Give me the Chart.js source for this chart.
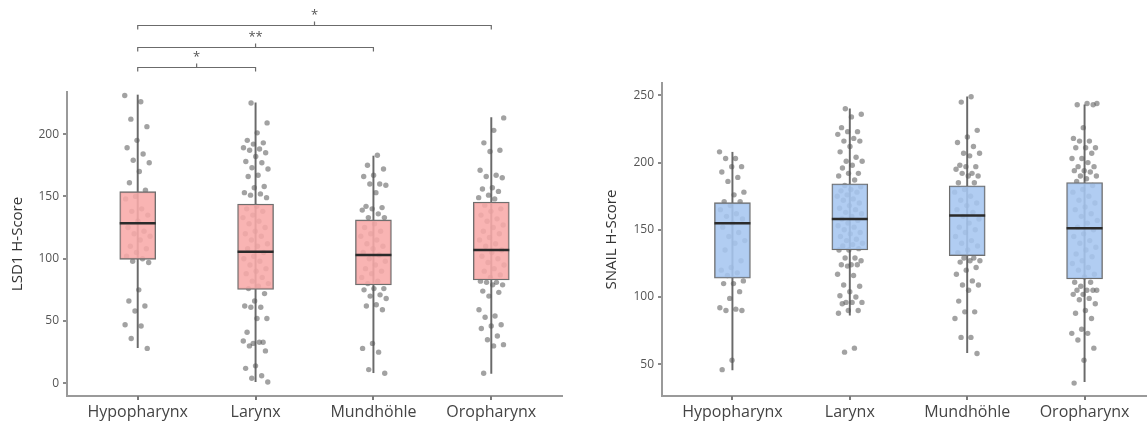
<!DOCTYPE html>
<html>
<head>
<meta charset="utf-8">
<script src="https://cdn.jsdelivr.net/npm/chart.js@4.4.1/dist/chart.umd.min.js"></script>
<style>
  html, body { margin:0; padding:0; background:#fff; overflow:hidden; }
  body { width:1147px; height:427px; position:relative; }
  .panel { position:absolute; top:0; height:427px; }
  #c1wrap { left:0; width:570px; }
  #c2wrap { left:580px; width:575px; }
</style>
</head>
<body>
<div id="c1wrap" class="panel"><canvas id="c1" width="570" height="427"></canvas></div>
<div id="c2wrap" class="panel"><canvas id="c2" width="575" height="427"></canvas></div>
<script>
// ---------- data ----------
const categories = ["Hypopharynx", "Larynx", "Mundhöhle", "Oropharynx"];

// LSD1 H-Score
const lsd1Q1      = [99.5, 75.4, 78.9, 82.9];
const lsd1Median  = [128.4, 105.6, 103.0, 107.0];
const lsd1Q3      = [153.8, 143.9, 131.1, 145.5];
const lsd1WhiskLo = [28.6, 1.3, 8.5, 8.0];
const lsd1WhiskHi = [231.4, 225.2, 182.4, 213.2];
const lsd1Ticks   = [0, 50, 100, 150, 200];
const lsd1Hypo = [231, 226, 212, 206, 195, 189, 184, 179, 177, 170, 161, 155, 150, 148, 140, 138, 135, 130, 125, 122, 120, 118, 115, 110, 108, 105, 102, 100, 98, 97, 75, 66, 62, 58, 47, 46, 36, 28];
const lsd1Larynx = [225, 209, 201, 195, 193, 192, 189, 188, 187, 185, 182, 178, 177, 173, 172, 167, 166, 158, 157, 153, 152, 151, 149, 142, 140, 138, 135, 133, 130, 128, 125, 122, 120, 118, 115, 112, 110, 108, 105, 102, 100, 98, 95, 92, 90, 88, 85, 82, 80, 78, 76, 72, 66, 62, 61, 61, 52, 52, 41, 33, 32, 34, 33, 30, 26, 14, 12, 6, 4, 1];
const lsd1Mund = [183, 175, 172, 167, 166, 160, 160, 159, 153, 142, 141, 140, 139, 136, 133, 133, 128, 125, 122, 120, 118, 115, 112, 110, 108, 105, 103, 100, 98, 95, 92, 90, 88, 85, 82, 80, 76, 76, 75, 71, 70, 68, 63, 62, 59, 32, 28, 25, 11, 8];
const lsd1Oro = [213, 203, 193, 187, 186, 171, 167, 166, 165, 157, 156, 154, 151, 149, 148, 143, 140, 138, 135, 132, 130, 127, 125, 122, 120, 117, 115, 112, 110, 107, 105, 102, 100, 97, 95, 92, 90, 87, 85, 82, 81, 81, 79, 79, 74, 73, 70, 59, 54, 53, 47, 46, 44, 38, 35, 31, 30, 8];
const lsd1Comparisons = [
  { from: 0, to: 1, label: "*" },
  { from: 0, to: 2, label: "**" },
  { from: 0, to: 3, label: "*" }
];

// SNAIL H-Score
const snailQ1      = [114.0, 135.0, 130.8, 113.5];
const snailMedian  = [154.9, 158.1, 160.6, 151.2];
const snailQ3      = [170.2, 184.2, 182.7, 185.1];
const snailWhiskLo = [45.8, 86.5, 58.6, 37.0];
const snailWhiskHi = [207.7, 240.0, 249.0, 243.0];
const snailTicks   = [50, 100, 150, 200, 250];
const snailHypo = [208, 203, 203, 197, 197, 193, 189, 186, 178, 176, 171, 171, 168, 165, 162, 160, 158, 155, 152, 148, 145, 142, 140, 135, 127, 122, 120, 118, 116, 112, 110, 110, 104, 99, 92, 91, 90, 90, 53, 46];
const snailLarynx = [240, 236, 234, 226, 223, 223, 221, 218, 216, 216, 212, 208, 204, 201, 201, 198, 196, 192, 192, 190, 187, 183, 182, 180, 179, 178, 176, 175, 173, 172, 170, 168, 166, 165, 163, 162, 160, 158, 157, 155, 153, 152, 150, 148, 147, 145, 143, 142, 140, 139, 138, 136, 135, 135, 129, 129, 127, 124, 124, 124, 123, 117, 116, 109, 108, 104, 101, 100, 96, 96, 96, 95, 90, 90, 88, 62, 59];
const snailMund = [249, 245, 224, 219, 215, 212, 207, 207, 205, 198, 197, 197, 195, 192, 192, 190, 190, 185, 185, 180, 178, 175, 172, 170, 168, 165, 163, 160, 158, 155, 152, 150, 148, 145, 142, 140, 138, 135, 133, 129, 129, 127, 127, 126, 122, 120, 117, 112, 109, 109, 105, 97, 89, 89, 84, 70, 70, 58];
const snailOro = [244, 244, 243, 243, 226, 218, 216, 216, 211, 211, 211, 207, 203, 203, 200, 197, 197, 194, 194, 193, 190, 190, 188, 186, 183, 180, 178, 175, 172, 170, 167, 165, 162, 160, 157, 155, 152, 150, 147, 145, 142, 140, 137, 135, 132, 130, 127, 125, 122, 120, 117, 115, 111, 111, 108, 105, 105, 105, 105, 102, 102, 99, 98, 95, 90, 88, 84, 76, 73, 73, 68, 62, 53, 36];

// ---------- helpers ----------
const FONT = "'Open Sans', 'Noto Sans', sans-serif";
function jitter(i) { // deterministic spread (golden-ratio sequence), only for horizontal placement
  return (((i * 0.6180339887) % 1) - 0.5) * 0.22;
}
function pointsData(groups) {
  const out = [];
  groups.forEach((g, gi) => g.forEach((v, i) => out.push({ x: gi + 1 + jitter(i + gi * 7), y: v })));
  return out;
}
const bracketPlugin = {
  id: 'brackets',
  afterDraw(chart, args, opts) {
    const ctx = chart.ctx, xs = chart.scales.x, ys = chart.scales.y;
    ctx.save();
    // small category tick marks under the x axis
    ctx.strokeStyle = '#7a7a7a';
    ctx.lineWidth = 2;
    ctx.beginPath();
    categories.forEach((c, i) => {
      const x = Math.round(xs.getPixelForValue(i + 1));
      ctx.moveTo(x, xs.top); ctx.lineTo(x, xs.top + 4);
    });
    ctx.stroke();
    if (opts && opts.items) {
      ctx.strokeStyle = '#6b6b6b';
      ctx.lineWidth = 1.2;
      ctx.fillStyle = '#555';
      ctx.font = "13px " + FONT;
      ctx.textAlign = 'center';
      ctx.textBaseline = 'middle';
      opts.items.forEach((it, k) => {
        const y = Math.round(ys.getPixelForValue(opts.levels[k])) + 0.5;
        const x1 = xs.getPixelForValue(it.from + 1), x2 = xs.getPixelForValue(it.to + 1);
        const xm = (x1 + x2) / 2;
        ctx.beginPath();
        ctx.moveTo(x1, y + 4); ctx.lineTo(x1, y); ctx.lineTo(x2, y); ctx.lineTo(x2, y + 4);
        ctx.moveTo(xm, y); ctx.lineTo(xm, y - 4);
        ctx.stroke();
        ctx.fillText(it.label, xm, y - 10);
      });
    }
    ctx.restore();
  }
};

function makeChart(id, cfg) {
  const boxes = categories.map((c, i) => ({ x: i + 1, y: [cfg.q1[i], cfg.q3[i]] }));
  const whisk = categories.map((c, i) => ({ x: i + 1, y: [cfg.lo[i], cfg.hi[i]] }));
  const meds  = categories.map((c, i) => ({ x: i + 1, y: cfg.med[i] }));
  return new Chart(document.getElementById(id), {
    type: 'bar',
    data: {
      datasets: [
        { type: 'bar', data: whisk, backgroundColor: '#6a6a6a', borderWidth: 0, barThickness: 1.3, grouped: false, order: 4 },
        { type: 'scatter', data: pointsData(cfg.points), pointRadius: 2.7, pointBackgroundColor: 'rgba(85,85,85,0.55)', pointBorderWidth: 0, order: 3 },
        { type: 'bar', data: boxes, backgroundColor: cfg.fill, borderColor: '#6e6e6e', borderWidth: 1.3, borderSkipped: false, barThickness: 36, grouped: false, order: 2 },
        { type: 'scatter', data: meds, pointStyle: 'line', pointRadius: 18, pointBorderColor: '#2b2b2b', pointBorderWidth: 2.6, order: 1 }
      ]
    },
    options: {
      responsive: false,
      animation: false,
      events: [],
      layout: { autoPadding: false, padding: { top: cfg.top, right: cfg.right, left: 0, bottom: 0 } },
      plugins: { legend: { display: false }, tooltip: { enabled: false }, brackets: cfg.brackets || {} },
      scales: {
        x: {
          type: 'linear', min: 0.4, max: 4.6, offset: false,
          afterBuildTicks: s => { s.ticks = categories.map((c, i) => ({ value: i + 1 })); },
          afterFit: s => { s.height = 427 - 396; s.paddingLeft = 0; s.paddingRight = 0; },
          ticks: { callback: v => categories[v - 1], color: '#444', font: { family: FONT, size: 16 }, padding: 7, maxRotation: 0, autoSkip: false },
          grid: { display: false, drawTicks: false },
          border: { display: true, color: '#9a9a9a', width: 2 }
        },
        y: {
          min: cfg.ymin, max: cfg.ymax,
          afterBuildTicks: s => { s.ticks = cfg.ticks.map(v => ({ value: v })); },
          afterFit: s => { s.width = cfg.yw; },
          ticks: { color: '#555', font: { family: FONT, size: 12 }, padding: 4 },
          grid: { display: true, drawOnChartArea: false, drawTicks: true, tickLength: 4, color: '#8a8a8a', lineWidth: 2 },
          border: { display: true, color: '#9a9a9a', width: 2 },
          title: { display: true, text: cfg.title, color: '#333', font: { family: FONT, size: 15 }, padding: { top: cfg.titlePad, bottom: 0 } }
        }
      }
    },
    plugins: [bracketPlugin]
  });
}

makeChart('c1', {
  q1: lsd1Q1, med: lsd1Median, q3: lsd1Q3, lo: lsd1WhiskLo, hi: lsd1WhiskHi,
  points: [lsd1Hypo, lsd1Larynx, lsd1Mund, lsd1Oro], ticks: lsd1Ticks,
  ymin: -10.2, ymax: 233.8, top: 92, right: 8, yw: 67, titlePad: 9,
  fill: 'rgba(248,170,168,0.88)', title: 'LSD1 H-Score',
  brackets: { items: lsd1Comparisons, levels: [253.5, 270.0, 287.2] }
});
makeChart('c2', {
  q1: snailQ1, med: snailMedian, q3: snailQ3, lo: snailWhiskLo, hi: snailWhiskHi,
  points: [snailHypo, snailLarynx, snailMund, snailOro], ticks: snailTicks,
  ymin: 26.4, ymax: 259.2, top: 83, right: 0, yw: 82, titlePad: 23,
  fill: 'rgba(166,198,240,0.88)', title: 'SNAIL H-Score'
});
</script>
</body>
</html>
